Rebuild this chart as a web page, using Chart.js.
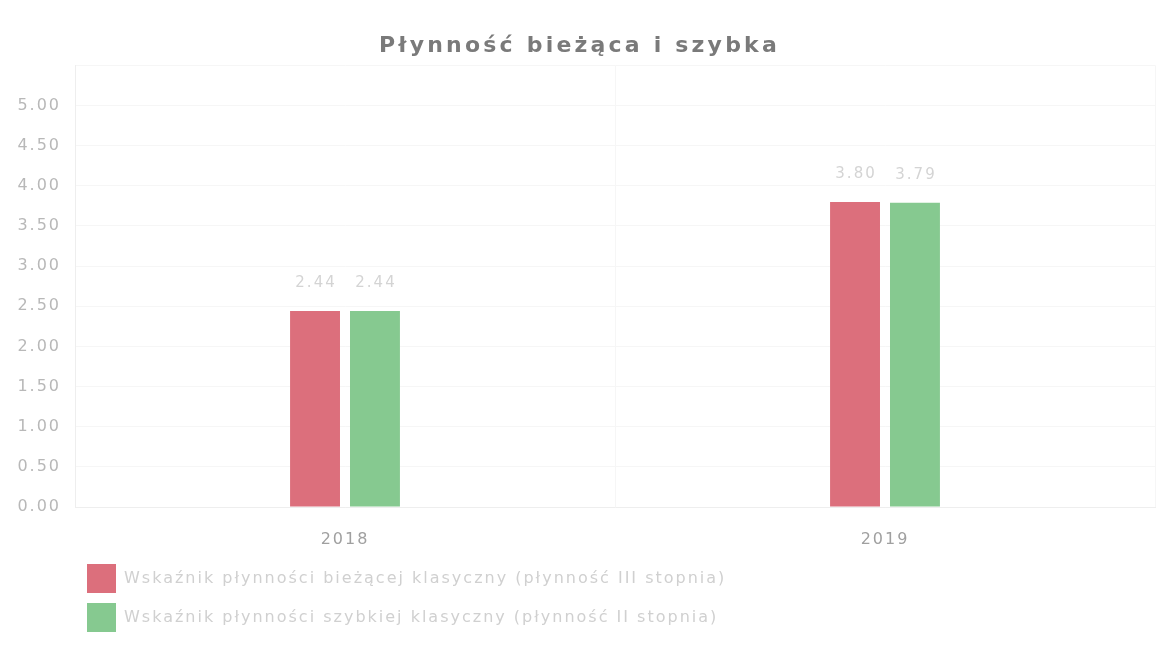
<!DOCTYPE html>
<html>
<head>
<meta charset="utf-8">
<script src="https://cdn.jsdelivr.net/npm/chart.js@4/dist/chart.umd.min.js"></script>
<style>
html,body{margin:0;padding:0;background:#fff;}
#wrap{width:1159px;height:645px;}
</style>
</head>
<body>
<div id="wrap"><canvas id="c" width="1159" height="645"></canvas></div>
<script>
const categories = ["2018", "2019"];
const seriesNames = [
  "Wskaźnik płynności bieżącej klasyczny (płynność III stopnia)",
  "Wskaźnik płynności szybkiej klasyczny (płynność II stopnia)"
];
const currentRatio = [2.44, 3.80];
const quickRatio = [2.44, 3.79];
const yTicks = [0, 0.5, 1, 1.5, 2, 2.5, 3, 3.5, 4, 4.5, 5];

const spacing = {
  id: 'spacing',
  beforeUpdate(chart) { chart.ctx.letterSpacing = '2px'; },
  beforeLayout(chart) { chart.ctx.letterSpacing = '2px'; },
  afterLayout(chart) {
    const lg = chart.legend;
    if (lg && !lg._shifted) {
      lg.left += 73; lg.right += 73; lg._shifted = true;
    }
    const tb = chart.titleBlock;
    if (tb && !tb._wrapped) {
      const orig = tb.draw.bind(tb);
      tb.draw = function () {
        const ctx = chart.ctx;
        ctx.letterSpacing = '3.2px';
        orig();
        ctx.letterSpacing = '2px';
      };
      tb._wrapped = true;
    }
  },
  beforeDraw(chart) { chart.ctx.letterSpacing = '2px'; }
};

const valueLabels = {
  id: 'valueLabels',
  afterDatasetsDraw(chart) {
    const ctx = chart.ctx;
    ctx.save();
    ctx.letterSpacing = '2px';
    ctx.font = '15px "DejaVu Sans"';
    ctx.fillStyle = '#d4d4d4';
    ctx.textAlign = 'center';
    ctx.textBaseline = 'middle';
    chart.data.datasets.forEach((ds, i) => {
      const meta = chart.getDatasetMeta(i);
      meta.data.forEach((bar, j) => {
        ctx.fillText(ds.data[j].toFixed(2), bar.x + 1, bar.y - 28);
      });
    });
    ctx.restore();
    ctx.letterSpacing = '2px';
  }
};

new Chart(document.getElementById('c'), {
  type: 'bar',
  data: {
    labels: categories,
    datasets: [
      { label: seriesNames[0], data: currentRatio, backgroundColor: '#dc6f7c' },
      { label: seriesNames[1], data: quickRatio, backgroundColor: '#86c990' }
    ]
  },
  options: {
    responsive: false,
    animation: false,
    layout: { padding: { left: 4, right: 4, top: 33, bottom: 3 } },
    categoryPercentage: 0.222,
    barPercentage: 0.833,
    plugins: {
      title: {
        display: true,
        text: 'Płynność bieżąca i szybka',
        color: '#7a7a7a',
        font: { family: 'DejaVu Sans', size: 22, weight: 'bold' },
        padding: { top: 0, bottom: 6 }
      },
      legend: {
        position: 'bottom',
        align: 'start',
        labels: {
          boxWidth: 29,
          boxHeight: 29,
          padding: 10,
          color: '#d0d0d0',
          font: { family: 'DejaVu Sans', size: 16 }
        }
      },
      tooltip: { enabled: false }
    },
    scales: {
      x: {
        afterFit(scale) { scale.height = 47; },
        grid: { color: '#f6f6f6', drawTicks: false },
        border: { color: '#eeeeee' },
        ticks: { color: '#a0a0a0', font: { family: 'DejaVu Sans', size: 16 }, padding: 23 }
      },
      y: {
        min: 0,
        max: 5.5,
        afterBuildTicks(scale) {
          scale.ticks = yTicks.concat([5.5]).map(v => ({ value: v }));
        },
        afterFit(scale) { scale.width = 71; },
        grid: { color: '#f6f6f6', drawTicks: false },
        border: { color: '#eeeeee' },
        ticks: {
          color: '#b8b8b8',
          font: { family: 'DejaVu Sans', size: 16 },
          padding: 14,
          callback: (v) => v > 5 ? '' : Number(v).toFixed(2)
        }
      }
    }
  },
  plugins: [spacing, valueLabels]
});
</script>
</body>
</html>
